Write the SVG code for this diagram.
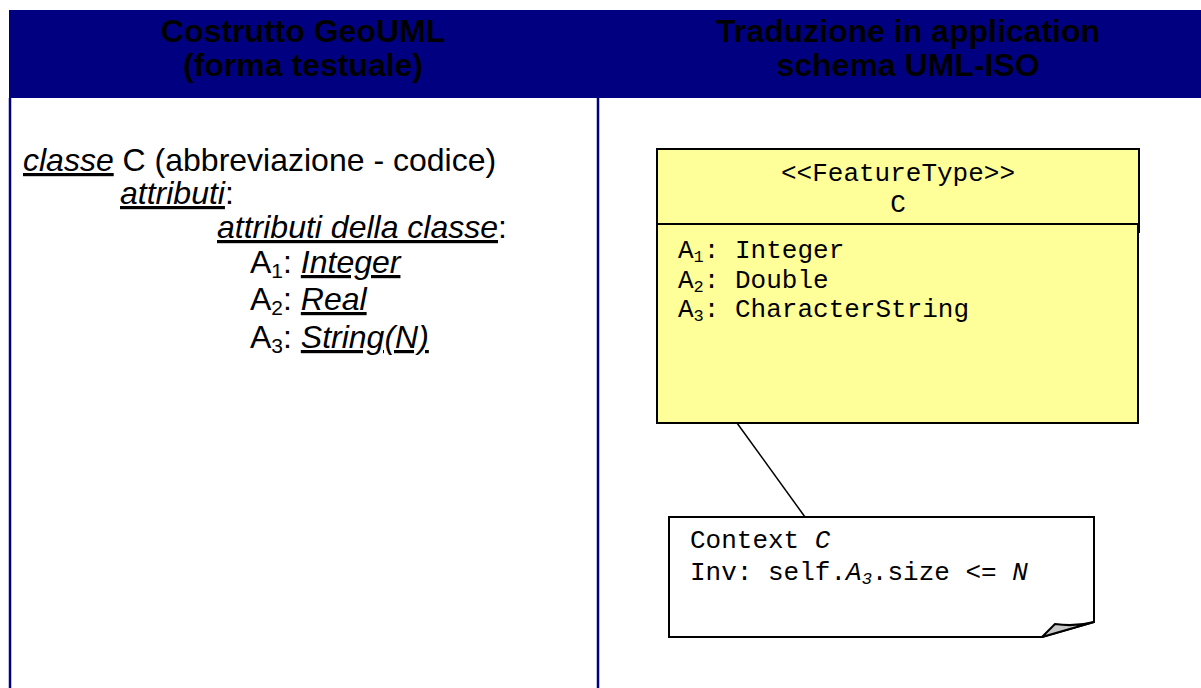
<svg xmlns="http://www.w3.org/2000/svg" width="1201" height="688" viewBox="0 0 1201 688">
<style>
.hdr{font-family:"Liberation Sans",Arial,sans-serif;font-weight:bold;font-size:32px;fill:#000;text-anchor:middle}
.body{font-family:"Liberation Sans",Arial,sans-serif;font-size:32px;fill:#000}
.iu{font-style:italic;text-decoration:underline}
.mono{font-family:"Liberation Mono","Courier New",monospace;font-size:26px;fill:#000}
.grid{stroke:#000080;stroke-width:2.5;fill:none}
.box{fill:#FFFF99;stroke:#000;stroke-width:2}
</style>
<rect width="1201" height="688" fill="#fff"/>
<g id="table">
<rect x="9" y="10" width="1192" height="88" fill="#000080"/>
<line class="grid" x1="10" y1="98" x2="10" y2="688"/>
<line class="grid" x1="598" y1="98" x2="598" y2="688"/>
<text class="hdr" x="303" y="41.5">Costrutto GeoUML</text>
<text class="hdr" x="303" y="75.5">(forma testuale)</text>
<text class="hdr" x="908" y="41.5">Traduzione in application</text>
<text class="hdr" x="908" y="75.5">schema UML-ISO</text>
</g>
<g id="geouml-text" class="body">
<text x="23" y="171"><tspan class="iu">classe</tspan> C (abbreviazione - codice)</text>
<text x="120" y="204"><tspan class="iu">attributi</tspan>:</text>
<text x="217" y="238"><tspan class="iu">attributi della classe</tspan>:</text>
<text x="250" y="273">A<tspan font-size="21" dy="5">1</tspan><tspan dy="-5">: </tspan><tspan class="iu">Integer</tspan></text>
<text x="250" y="310">A<tspan font-size="21" dy="5">2</tspan><tspan dy="-5">: </tspan><tspan class="iu">Real</tspan></text>
<text x="250" y="348">A<tspan font-size="21" dy="5">3</tspan><tspan dy="-5">: </tspan><tspan class="iu">String(N)</tspan></text>
</g>
<g id="class-C">
<rect class="box" x="657" y="149" width="482" height="75"/>
<rect class="box" x="657" y="224" width="481" height="199"/>
<line x1="1139" y1="224" x2="1139" y2="233" stroke="#000" stroke-width="2"/>
<text class="mono" x="898" y="181" text-anchor="middle">&lt;&lt;FeatureType&gt;&gt;</text>
<text class="mono" x="898" y="212" text-anchor="middle">C</text>
<text class="mono" x="678" y="258">A<tspan font-size="17" dy="4">1</tspan><tspan dy="-4">: Integer</tspan></text>
<text class="mono" x="678" y="288">A<tspan font-size="17" dy="4">2</tspan><tspan dy="-4">: Double</tspan></text>
<text class="mono" x="678" y="317">A<tspan font-size="17" dy="4">3</tspan><tspan dy="-4">: CharacterString</tspan></text>
</g>
<g id="connectors">
<line x1="737" y1="423" x2="805" y2="517" stroke="#000" stroke-width="1.5"/>
</g>
<g id="note">
<path d="M669,517 H1094 V622 L1042,637 H669 Z" fill="#fff" stroke="#000" stroke-width="2"/>
<path d="M1042,637 L1055,624 Q1075,627 1094,622 Z" fill="#c8c8c8" stroke="#000" stroke-width="2" stroke-linejoin="round"/>
<text class="mono" x="690" y="548">Context <tspan font-style="italic">C</tspan></text>
<text class="mono" x="690" y="580">Inv: self.<tspan font-style="italic">A</tspan><tspan font-style="italic" font-size="17" dy="4">3</tspan><tspan dy="-4">.size &lt;= </tspan><tspan font-style="italic">N</tspan></text>
</g>
</svg>
